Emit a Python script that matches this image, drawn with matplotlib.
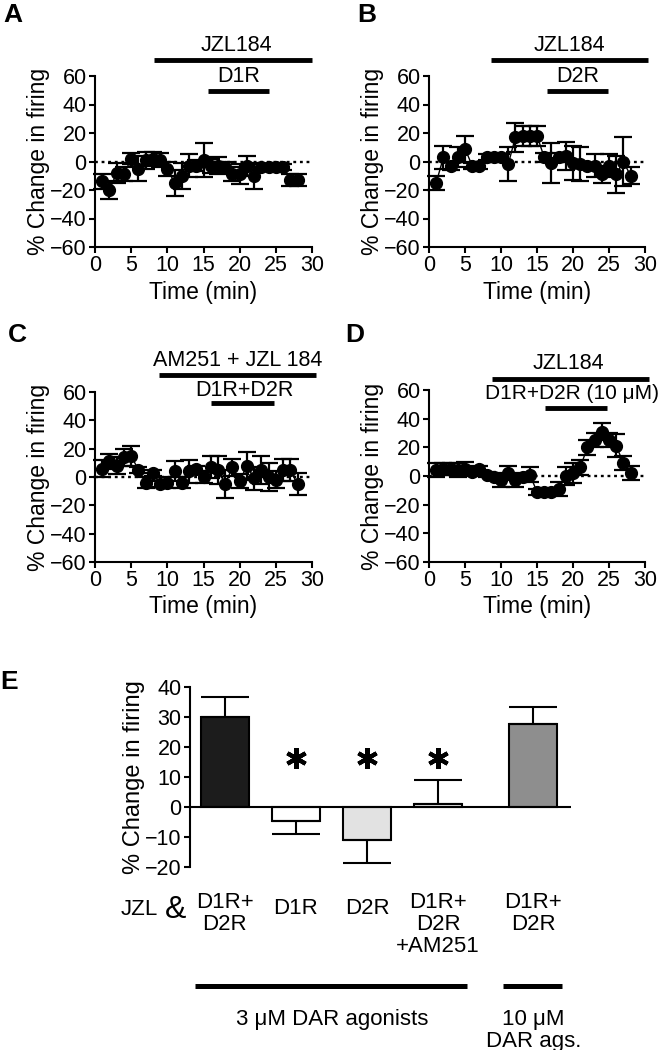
import numpy as np
import matplotlib.pyplot as plt

plt.rcParams['font.family'] = ['Liberation Sans', 'DejaVu Sans']

# time course data (1 point per minute)
time_min = np.arange(1, 29)

a_mean = [-14, -20, -8, -9, 2, -5, 1, 2, 1, -5, -15, -10, -3, -3, 1,
          -3, -3, -4, -9, -9, -3, -10, -4, -4, -4, -4, -13, -13]
a_err = [5, 6, 7, 5, 4, 9, 6, 5, 5, 5, 9, 9, 8, 4, 12,
         5, 6, 4, 5, 7, 7, 9, 2, 2, 2, 2, 4, 4]

b_mean = [-15, 3, -3, 3, 9, -3, -3, 3, 3, 3, -2, 17, 18, 18, 18,
          3, -1, 3, 4, -1, -2, -3, -3, -9, -3, -9, 0, -10]
b_err = [5, 8, 3, 7, 9, 2, 2, 2, 2, 2, 12, 10, 7, 7, 7,
         3, 14, 3, 10, 12, 12, 2, 8, 6, 8, 13, 17, 6]

c_mean = [6, 11, 8, 14, 15, 5, -4, 3, -5, -4, 4, -4, 4, 6, 0,
          7, 5, -5, 7, -3, 8, -1, 5, 0, -2, 5, 5, -5]
c_err = [6, 5, 6, 6, 7, 2, 4, 2, 2, 4, 7, 4, 8, 2, 4,
         8, 10, 10, 6, 5, 10, 8, 10, 10, 6, 8, 8, 8]

d_mean = [4, 5, 5, 4, 5, 3, 5, 1, -1, -3, 2, -3, -1, 1, -11,
          -11, -11, -9, 0, 2, 6, 20, 25, 31, 25, 21, 9, 2]
d_err = [5, 4, 4, 5, 5, 2, 2, 2, 2, 5, 5, 5, 2, 5, 2,
         2, 2, 5, 6, 7, 5, 5, 5, 6, 5, 8, 5, 5]

# summary bars (panel E)
e_labels = ['D1R+\nD2R', 'D1R', 'D2R', 'D1R+\nD2R\n+AM251', 'D1R+\nD2R']
e_mean = [30, -4.7, -11, 1.1, 27.7]
e_err = [6.8, 4.2, 7.7, 7.9, 5.7]
e_colors = ['#1c1c1c', 'white', '#e2e2e2', '#f4f4f4', '#8e8e8e']
e_pos = [0, 1, 2, 3, 4.34]
e_sig = [1, 2, 3]

FS = 15.5
LFS = 16.5
W, H = 663, 1050


def px_axes(x0, y0, x1, y1):
    return fig.add_axes([x0 / W, 1 - y1 / H, (x1 - x0) / W, (y1 - y0) / H])


def time_panel(ax, mean, err):
    ax.axhline(0, color='k', ls=(0, (1.2, 1.6)), lw=1.7, zorder=1)
    ax.errorbar(time_min, mean, yerr=err, fmt='-o', color='k', ms=8.5,
                lw=1.0, elinewidth=1.6, capsize=6.5, capthick=1.6,
                clip_on=False, zorder=3)
    ax.set_xlim(0, 30)
    ax.set_ylim(-60, 60)
    ax.set_xticks(range(0, 31, 5))
    ax.set_yticks(range(-60, 61, 20))
    for s in ['top', 'right']:
        ax.spines[s].set_visible(False)
    for s in ['left', 'bottom']:
        ax.spines[s].set_linewidth(1.5)
    ax.tick_params(width=1.5, length=4, labelsize=FS, pad=2)
    ax.set_xlabel('Time (min)', fontsize=LFS, labelpad=3)
    ax.set_ylabel('% Change in firing', fontsize=LFS, labelpad=0)


def drug_bar(ax, x0, x1, y, text=None, ty=None, tx=None, fs=FS):
    ax.plot([x0, x1], [y, y], color='k', lw=3.5, solid_capstyle='butt',
            clip_on=False)
    if text:
        ax.text(tx if tx is not None else (x0 + x1) / 2, ty, text,
                ha='center', va='bottom', fontsize=fs, clip_on=False)


fig = plt.figure(figsize=(W / 100, H / 100), dpi=100)

axA = px_axes(95, 76, 312, 247)
time_panel(axA, a_mean, a_err)
drug_bar(axA, 8.2, 30, 71, 'JZL184', 74, 19.5)
drug_bar(axA, 15.6, 24, 49.5, 'D1R', 52, 19.8)

axB = px_axes(429, 76, 645, 247)
time_panel(axB, b_mean, b_err)
drug_bar(axB, 8.6, 30.4, 71, 'JZL184', 74, 19.5)
drug_bar(axB, 16.4, 24.9, 49.5, 'D2R', 52, 20.6)

axC = px_axes(95, 392, 312, 562)
time_panel(axC, c_mean, c_err)
drug_bar(axC, 8.9, 30.6, 72, 'AM251 + JZL 184', 74.5, 19.7)
drug_bar(axC, 16.1, 24.7, 52, 'D1R+D2R', 54, 20.7)

axD = px_axes(429, 390, 645, 562)
time_panel(axD, d_mean, d_err)
drug_bar(axD, 8.75, 30.5, 68, 'JZL184', 71, 19.3)
drug_bar(axD, 16.1, 24.7, 47.5, 'D1R+D2R (10 \u03bcM)', 51, 19.9, fs=15)

# panel E
axE = px_axes(190, 687, 571, 867)
axE.bar(e_pos, e_mean, width=0.68, color=e_colors, edgecolor='k',
        linewidth=1.5, zorder=2)
lo = [e if m < 0 else 0 for m, e in zip(e_mean, e_err)]
hi = [e if m >= 0 else 0 for m, e in zip(e_mean, e_err)]
axE.errorbar(e_pos, e_mean, yerr=[lo, hi], fmt='none', ecolor='k',
             elinewidth=1.5, capsize=17, capthick=1.5, zorder=3)
axE.axhline(0, color='k', lw=1.5, zorder=4)
for i in e_sig:
    axE.plot(e_pos[i], 16.5, marker=(6, 2, 0), ms=15, mew=3, color='k')
axE.set_xlim(-0.49, 4.87)
axE.set_ylim(-20, 40)
axE.set_yticks(range(-20, 41, 10))
axE.set_xticks([])
for s in ['top', 'right', 'bottom']:
    axE.spines[s].set_visible(False)
axE.spines['left'].set_linewidth(1.5)
axE.tick_params(width=1.5, length=4, labelsize=FS, pad=2)
axE.set_ylabel('% Change in firing', fontsize=17, labelpad=0)

for p, lab in zip(e_pos, e_labels):
    top = -28.5 if '\n' in lab else -30.5
    axE.text(p, top, lab, ha='center', va='top', fontsize=16,
             linespacing=1.05, clip_on=False)
axE.text(-1.2, -34.3, 'JZL', ha='center', va='center', fontsize=16,
         clip_on=False)
axE.text(-0.69, -34.3, '&', ha='center', va='center', fontsize=23,
         clip_on=False)

axE.plot([-0.42, 3.41], [-59.7, -59.7], color='k', lw=3.6,
         solid_capstyle='butt', clip_on=False)
axE.plot([3.92, 4.75], [-59.7, -59.7], color='k', lw=3.6,
         solid_capstyle='butt', clip_on=False)
axE.text(1.51, -70.7, '3 \u03bcM DAR agonists', ha='center', va='center',
         fontsize=16, clip_on=False)
axE.text(4.34, -74.5, '10 \u03bcM\nDAR ags.', ha='center', va='center',
         fontsize=16, linespacing=1.05, clip_on=False)

for lab, x, y in [('A', 3, 3), ('B', 357, 3), ('C', 8, 323), ('D', 345, 323),
                  ('E', 0, 670)]:
    fig.text(x / W, 1 - y / H, lab, fontsize=19, fontweight='bold',
             va='top', ha='left')

fig.savefig('out.png', dpi=100)
